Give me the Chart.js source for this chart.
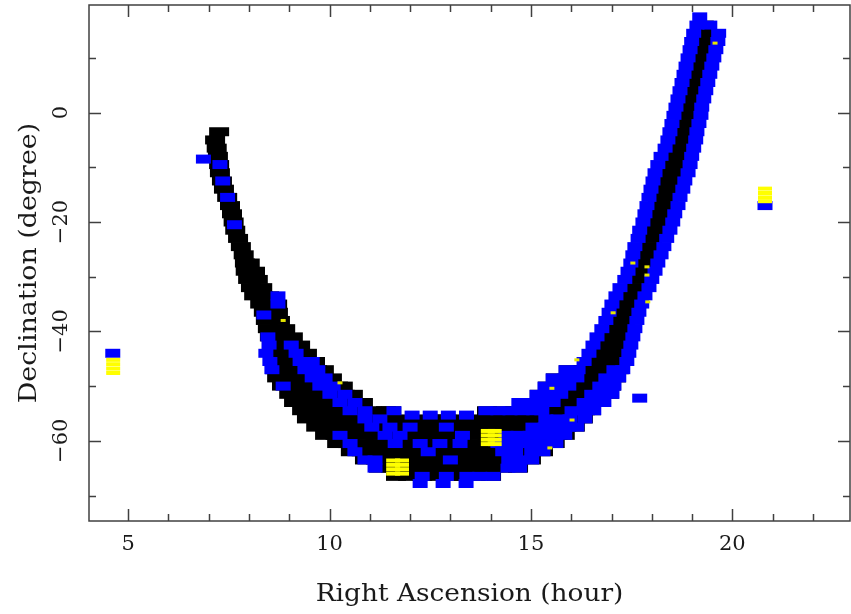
<!DOCTYPE html>
<html><head><meta charset="utf-8">
<script src="https://cdn.jsdelivr.net/npm/chart.js@4/dist/chart.umd.min.js"></script>
<style>html,body{margin:0;padding:0;background:#fff;}canvas{display:block}</style>
</head><body>
<canvas id="c" width="851" height="614"></canvas>
<script>
const xRange = [4.03, 22.92];
const yRange = [-74.66, 19.67];
const xMajorTicks = [5, 10, 15, 20];
const xMinorTicks = [6, 7, 8, 9, 11, 12, 13, 14, 16, 17, 18, 19, 21, 22];
const yMajorTicks = [-60, -40, -20, 0];
const yMinorTicks = [-70, -50, -30, -10, 10];
const xTickLabels = ['5', '10', '15', '20'];
const yTickLabels = ['\u221260', '\u221240', '\u221220', '0'];
const xTitle = 'Right Ascension (hour)';
const yTitle = 'Declination (degree)';

// rows of [declination, [right ascensions...]]
const blackRows = [
 [16, [19.29]],
 [14.5, [19.34]],
 [13, [19.32]],
 [11.5, [19.27]],
 [10, [19.22]],
 [8.5, [19.17]],
 [7, [19.12]],
 [5.5, [19.07]],
 [4, [19.02]],
 [2.5, [18.97]],
 [1, [18.92]],
 [-0.5, [18.88]],
 [-2, [18.83]],
 [-3.5, [7.26, 18.78]],
 [-5, [7.16, 18.75]],
 [-6.5, [7.20, 18.68]],
 [-8, [7.23, 18.51, 18.71]],
 [-9.5, [7.26, 18.45, 18.65]],
 [-11, [7.28, 18.39, 18.59]],
 [-12.5, [7.33, 18.33, 18.52]],
 [-14, [7.38, 18.28, 18.47]],
 [-15.5, [7.46, 18.21, 18.41]],
 [-17, [7.53, 18.16, 18.36]],
 [-18.5, [7.58, 18.20]],
 [-20, [7.62, 18.15]],
 [-21.5, [7.66, 18.08]],
 [-23, [7.73, 18.01]],
 [-24.5, [7.80, 17.94]],
 [-26, [7.87, 17.88]],
 [-27.5, [7.90, 8.02, 17.82]],
 [-29, [7.92, 8.15, 17.74]],
 [-30.5, [7.98, 8.22, 17.67]],
 [-32, [8.05, 8.33, 17.57]],
 [-33.5, [8.13, 8.35, 8.50, 17.47]],
 [-35, [8.28, 8.70, 17.38]],
 [-36.5, [8.37, 8.72, 17.31]],
 [-38, [8.42, 8.77, 17.15, 17.34]],
 [-39.5, [8.47, 8.90, 17.07, 17.27]],
 [-41, [8.52, 8.82, 9.09, 16.96, 17.21]],
 [-42.5, [8.57, 8.92, 9.27, 16.89, 17.13]],
 [-44, [8.60, 8.95, 9.27, 9.44, 16.79, 17.08]],
 [-45.5, [8.62, 8.97, 9.32, 9.64, 16.39, 16.71, 17.01, 17.31]],
 [-47, [8.65, 9.00, 9.34, 9.69, 9.86, 15.94, 16.29, 16.64, 16.98, 17.18]],
 [-48.5, [8.70, 9.04, 9.39, 9.74, 10.06, 15.62, 15.97, 16.32, 16.66, 17.11]],
 [-50, [8.82, 9.17, 9.52, 9.86, 10.21, 10.33, 15.42, 15.77, 16.12, 16.46, 16.81, 16.99]],
 [-51.5, [9.00, 9.34, 9.69, 10.04, 10.38, 10.58, 15.22, 15.57, 15.92, 16.27, 16.61, 16.94]],
 [-53, [9.12, 9.47, 9.81, 10.16, 10.51, 10.83, 14.78, 15.12, 15.47, 15.82, 16.17, 16.51, 16.74]],
 [-54.5, [9.32, 9.67, 10.01, 10.36, 10.71, 11.05, 11.40, 11.53, 13.91, 14.26, 14.60, 14.95, 15.30, 15.65, 15.99, 16.34, 16.49]],
 [-56, [9.44, 9.78, 10.13, 10.49, 10.82, 11.18, 11.52, 11.88, 12.21, 12.57, 12.90, 13.26, 13.61, 13.95, 14.30, 14.66, 15.00, 15.35, 15.70, 16.04, 16.29]],
 [-57.5, [9.67, 9.95, 10.30, 10.66, 11.00, 11.35, 11.70, 12.04, 12.40, 12.74, 13.09, 13.44, 13.78, 14.13, 14.48, 14.83, 15.17, 15.52, 15.87, 16.09]],
 [-59, [9.89, 10.15, 10.49, 10.84, 11.18, 11.53, 11.88, 12.22, 12.58, 12.92, 13.27, 13.61, 13.96, 14.31, 14.65, 15.00, 15.35, 15.66, 15.84]],
 [-60.5, [10.19, 10.45, 10.80, 11.14, 11.49, 11.84, 12.18, 12.53, 12.88, 13.22, 13.57, 13.92, 14.27, 14.61, 14.96, 15.30, 15.59]],
 [-62, [10.53, 10.80, 11.15, 11.50, 11.84, 12.19, 12.54, 12.88, 13.23, 13.57, 13.92, 14.27, 14.61, 14.95, 15.30]],
 [-63.5, [10.88, 11.15, 11.49, 11.84, 12.19, 12.53, 12.88, 13.23, 13.58, 13.92, 14.27, 14.62, 15.00]],
 [-65, [11.23, 11.52, 11.87, 12.21, 12.56, 12.90, 13.25, 13.60, 13.94, 14.29, 14.68]],
 [-66.5, [11.65, 11.95, 12.30, 12.64, 12.99, 13.34, 13.68, 14.01]]
];

const blueRows = [
 [17.5, [19.19]],
 [16, [19.12, 19.44]],
 [14.5, [19.04, 19.66]],
 [13, [18.99, 19.64]],
 [11.5, [18.95, 19.59]],
 [10, [18.90, 19.54]],
 [8.5, [18.85, 19.49]],
 [7, [18.80, 19.44]],
 [5.5, [18.75, 19.39]],
 [4, [18.70, 19.34]],
 [2.5, [18.65, 19.29]],
 [1, [18.60, 19.24]],
 [-0.5, [18.55, 19.22]],
 [-2, [18.50, 19.17]],
 [-3.5, [18.45, 19.12]],
 [-5, [18.40, 19.09]],
 [-6.5, [18.33, 19.04]],
 [-8, [18.23, 18.99]],
 [-8.5, [6.87]],
 [-9.5, [7.28, 18.15, 18.95]],
 [-11, [18.08, 18.90]],
 [-12.5, [7.35, 18.03, 18.82]],
 [-14, [17.98, 18.77]],
 [-15.5, [7.47, 17.93, 18.70]],
 [-17, [17.88, 18.65, 20.81]],
 [-18.5, [17.83, 18.57]],
 [-20, [17.78, 18.52]],
 [-20.5, [7.64]],
 [-21.5, [17.70, 18.45]],
 [-23, [17.66, 18.37]],
 [-24.5, [17.58, 18.30]],
 [-26, [17.53, 18.23]],
 [-27.5, [17.48, 18.15]],
 [-29, [17.41, 18.08]],
 [-30.5, [17.33, 18.00]],
 [-32, [17.21, 17.93]],
 [-33.5, [8.72, 17.11, 17.83]],
 [-35, [8.72, 17.01, 17.75]],
 [-36.5, [16.94, 17.68]],
 [-37, [8.37]],
 [-38, [16.86, 17.63]],
 [-39.5, [16.76, 17.58]],
 [-41, [8.47, 16.64, 17.53]],
 [-42.5, [8.50, 9.05, 16.54, 17.48]],
 [-44, [4.62, 8.42, 9.17, 16.44, 17.43]],
 [-45.5, [8.52, 9.27, 9.57, 16.32, 17.38]],
 [-47, [8.57, 9.39, 9.71, 15.87, 16.17, 17.06, 17.28]],
 [-48.5, [9.57, 9.89, 15.55, 15.84, 16.14, 16.86, 17.18]],
 [-50, [8.85, 9.76, 10.09, 15.35, 15.65, 15.94, 16.71, 17.06]],
 [-51.5, [10.01, 10.38, 15.15, 15.45, 15.74, 16.51, 16.81, 17.01]],
 [-52.2, [17.70]],
 [-53, [10.26, 10.63, 14.70, 15.00, 15.30, 15.55, 16.32, 16.61, 16.81]],
 [-54.5, [10.51, 10.88, 11.60, 13.88, 14.18, 14.48, 14.78, 15.07, 15.27, 16.02, 16.32, 16.56]],
 [-55.3, [12.05, 12.50, 12.95, 13.40]],
 [-56, [10.88, 11.25, 15.37, 15.67, 15.97, 16.34]],
 [-57.5, [11.05, 11.50, 12.00, 12.90, 15.05, 15.35, 15.65, 15.94, 16.14]],
 [-59, [10.26, 11.38, 11.75, 13.30, 14.38, 14.68, 14.98, 15.27, 15.57, 15.84]],
 [-60.5, [10.51, 11.63, 12.25, 12.74, 13.24, 14.18, 14.48, 14.78, 15.07, 15.37, 15.62]],
 [-62, [10.63, 12.45, 14.30, 14.62, 15.02, 15.30]],
 [-63.5, [10.88, 11.13, 13.00, 14.45, 14.75, 15.02]],
 [-65, [11.13, 14.43, 14.72]],
 [-66.5, [12.30, 12.90, 13.41, 13.73, 14.06]],
 [-67.8, [12.25, 12.82, 13.39]]
];

const yellowRA = [4.63, 4.63, 4.63, 4.63, 20.81, 20.81, 20.81, 20.81,
  11.58, 11.80, 11.58, 11.80, 11.58, 11.80, 11.58, 11.80,
  13.93, 14.10, 13.93, 14.10, 13.93, 14.10, 13.93, 14.10];
const yellowDec = [-45.2, -46.0, -46.8, -47.6, -13.9, -14.7, -15.5, -16.2,
  -63.6, -63.6, -64.4, -64.4, -65.2, -65.2, -66.0, -66.0,
  -58.2, -58.2, -59.0, -59.0, -59.8, -59.8, -60.6, -60.6];
const speckRA = [19.57, 17.53, 17.88, 17.88, 17.90, 17.04, 16.14, 15.52, 16.02, 15.47, 8.85, 10.26];
const speckDec = [12.7, -27.5, -28.2, -29.7, -34.6, -36.6, -45.2, -50.4, -56.2, -61.3, -38.0, -49.4];

function rowsToPoints(rows) {
  const out = [];
  rows.forEach(([dec, ras]) => ras.forEach(ra => out.push({x: ra, y: dec})));
  return out;
}
function zipPoints(ra, dec) { return ra.map((v, i) => ({x: v, y: dec[i]})); }

const frame = {
  id: 'pgframe',
  afterDraw(chart) {
    const {ctx, chartArea: a, scales: {x, y}} = chart;
    ctx.save();
    ctx.strokeStyle = '#404040';
    ctx.lineWidth = 1.5;
    ctx.strokeRect(a.left, a.top, a.right - a.left, a.bottom - a.top);
    ctx.beginPath();
    const xt = (vals, len) => vals.forEach(v => {
      const p = Math.round(x.getPixelForValue(v)) + 0.5;
      ctx.moveTo(p, a.bottom); ctx.lineTo(p, a.bottom - len);
      ctx.moveTo(p, a.top); ctx.lineTo(p, a.top + len);
    });
    const yt = (vals, len) => vals.forEach(v => {
      const p = Math.round(y.getPixelForValue(v)) + 0.5;
      ctx.moveTo(a.left, p); ctx.lineTo(a.left + len, p);
      ctx.moveTo(a.right, p); ctx.lineTo(a.right - len, p);
    });
    xt(xMajorTicks, 12); xt(xMinorTicks, 7);
    yt(yMajorTicks, 12); yt(yMinorTicks, 7);
    ctx.stroke();

    ctx.fillStyle = '#1a1a1a';
    ctx.textAlign = 'center';
    ctx.textBaseline = 'middle';
    ctx.font = '21px "DejaVu Serif"';
    xMajorTicks.forEach((v, i) => ctx.fillText(xTickLabels[i], x.getPixelForValue(v), a.bottom + 24));
    yMajorTicks.forEach((v, i) => {
      ctx.save();
      ctx.translate(a.left - 27, y.getPixelForValue(v));
      ctx.rotate(-Math.PI / 2);
      ctx.fillText(yTickLabels[i], 0, 0);
      ctx.restore();
    });
    ctx.font = '24px "DejaVu Serif"';
    ctx.save();
    ctx.translate((a.left + a.right) / 2, a.bottom + 74);
    ctx.scale(1.1, 1);
    ctx.fillText(xTitle, 0, 0);
    ctx.restore();
    ctx.save();
    ctx.translate(a.left - 59, (a.top + a.bottom) / 2);
    ctx.rotate(-Math.PI / 2);
    ctx.scale(1.12, 1);
    ctx.fillText(yTitle, 0, 0);
    ctx.restore();
    ctx.restore();
  }
};

new Chart(document.getElementById('c'), {
  type: 'scatter',
  data: {
    datasets: [
      {label: 'Yellow', data: zipPoints(yellowRA, yellowDec), pointStyle: 'line', pointRadius: 7,
       pointBorderWidth: 4, pointBorderColor: '#ffff00', borderColor: '#ffff00', order: 0},
      {label: 'Yellow specks', data: zipPoints(speckRA, speckDec), pointStyle: 'line', pointRadius: 2.5,
       pointBorderWidth: 3, pointBorderColor: '#e6e600', borderColor: '#e6e600', order: 0},
      {label: 'Blue', data: rowsToPoints(blueRows), pointStyle: 'line', pointRadius: 7.5,
       pointBorderWidth: 9, pointBorderColor: '#0000ff', borderColor: '#0000ff', order: 1},
      {label: 'Black', data: rowsToPoints(blackRows), pointStyle: 'line', pointRadius: 10,
       pointBorderWidth: 9, pointBorderColor: '#000000', borderColor: '#000000', order: 2}
    ]
  },
  options: {
    responsive: false,
    animation: false,
    events: [],
    layout: {autoPadding: false, padding: {left: 89, right: 1, top: 5, bottom: 93}},
    plugins: {legend: {display: false}, tooltip: {enabled: false}},
    scales: {
      x: {type: 'linear', min: xRange[0], max: xRange[1], display: false},
      y: {type: 'linear', min: yRange[0], max: yRange[1], display: false}
    }
  },
  plugins: [frame]
});
</script>
</body></html>
